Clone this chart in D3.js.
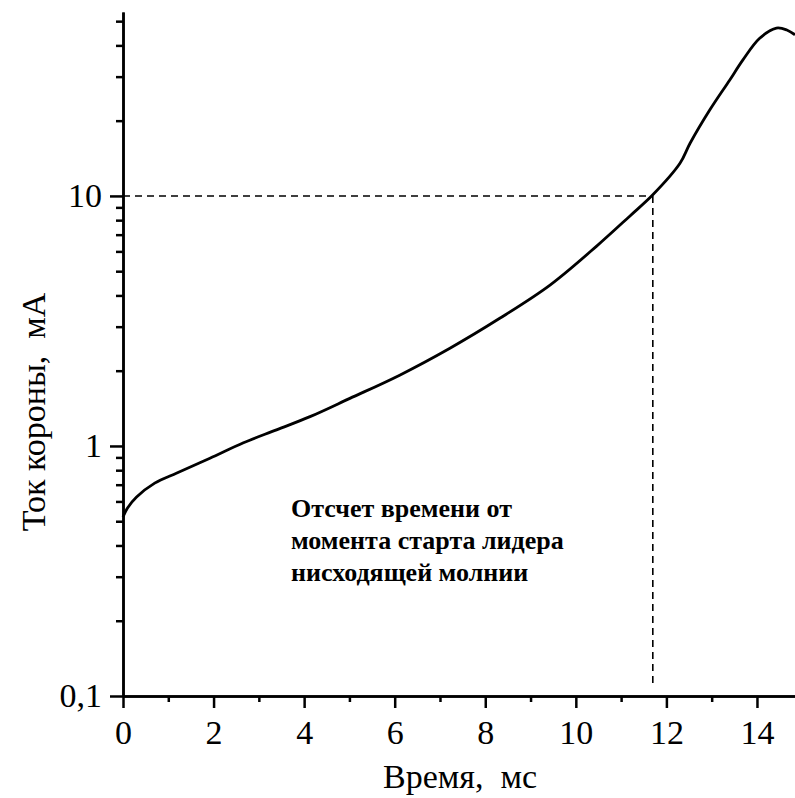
<!DOCTYPE html>
<html>
<head>
<meta charset="utf-8">
<script src="https://cdn.jsdelivr.net/npm/d3@7"></script>
<style>
  body { margin: 0; background: #fff; }
  svg text { font-family: "Liberation Serif", "Times New Roman", Times, "DejaVu Serif", serif; }
</style>
</head>
<body>
<div id="chart"></div>
<script>
// Данные: время (мс) и ток короны (мА)
const timeMs = [0, 0.1, 0.3, 0.7, 1.19, 1.92, 2.66, 3.39, 4.13, 5.01, 6.11, 7.22, 8.32, 9.43,
  10.46, 11.19, 11.7, 12.3, 12.52, 12.96, 13.4, 13.69, 14.06, 14.43, 14.66, 14.84];
const currentMA = [0.52, 0.565, 0.625, 0.71, 0.78, 0.893, 1.03, 1.16, 1.31, 1.55, 1.92, 2.46, 3.24, 4.4,
  6.3, 8.3, 10.1, 13.5, 16.2, 22.1, 29.1, 35, 42.7, 46.9, 46.1, 44.1];

const xMajorTicks = [0, 2, 4, 6, 8, 10, 12, 14];
const xMinorTicks = [1, 3, 5, 7, 9, 11, 13];
const yMajorTicks = [0.1, 1, 10];
const yMinorTicks = [0.2, 0.3, 0.4, 0.5, 0.6, 0.7, 0.8, 0.9, 2, 3, 4, 5, 6, 7, 8, 9, 20, 30, 40, 50];
const yTickLabels = ["0,1", "1", "10"];

const markerT = 11.7;   // момент, когда ток достигает 10 мА
const markerI = 10;

const annotation = ["Отсчет времени от", "момента старта лидера", "нисходящей молнии"];

const width = 795;
const height = 798;
const serif = "'Liberation Serif', 'Times New Roman', Times, 'DejaVu Serif', serif";

const data = timeMs.map((t, i) => ({ t, i: currentMA[i] }));

const svg = d3.select("#chart")
  .append("svg")
  .attr("width", width)
  .attr("height", height);

const x = d3.scaleLinear()
  .domain([0, 14.84])
  .range([123, 795]);

const y = d3.scaleLog()
  .domain([0.1, 54.4])
  .range([696, 12]);

// оси
const xAxisMinor = d3.axisBottom(x).tickValues(xMinorTicks).tickSize(6).tickSizeOuter(0).tickFormat("");
const xAxisMajor = d3.axisBottom(x).tickValues(xMajorTicks).tickSize(12).tickSizeOuter(0).tickPadding(12);
const yAxisMinor = d3.axisLeft(y).tickValues(yMinorTicks).tickSize(7).tickSizeOuter(0).tickFormat("");
const yAxisMajor = d3.axisLeft(y).tickValues(yMajorTicks).tickSize(13).tickSizeOuter(0).tickPadding(8)
  .tickFormat((d, k) => yTickLabels[k]);

function styleAxis(g) {
  g.attr("font-family", serif);
  g.select(".domain").attr("stroke", "#000").attr("stroke-width", 2.5);
  g.selectAll(".tick line").attr("stroke", "#000").attr("stroke-width", 2.5);
  g.selectAll(".tick text").attr("fill", "#000")
    .style("font-family", serif)
    .style("font-size", "34px");
}

svg.append("g").attr("transform", "translate(0,696)").call(xAxisMinor).call(styleAxis);
svg.append("g").attr("transform", "translate(0,696)").call(xAxisMajor).call(styleAxis);
svg.append("g").attr("transform", "translate(123,0)").call(yAxisMinor).call(styleAxis);
svg.append("g").attr("transform", "translate(123,0)").call(yAxisMajor).call(styleAxis);

// пунктирные линии к точке 10 мА
svg.append("line")
  .attr("x1", x(0)).attr("x2", x(markerT))
  .attr("y1", y(markerI)).attr("y2", y(markerI))
  .attr("stroke", "#000").attr("stroke-width", 1.6)
  .attr("stroke-dasharray", "7,5");

svg.append("line")
  .attr("x1", x(markerT)).attr("x2", x(markerT))
  .attr("y1", y(markerI)).attr("y2", y(0.1) - 8)
  .attr("stroke", "#000").attr("stroke-width", 1.6)
  .attr("stroke-dasharray", "7,5");

// кривая тока
const line = d3.line()
  .x((d) => x(d.t))
  .y((d) => y(d.i))
  .curve(d3.curveCatmullRom.alpha(0.5));

svg.append("path")
  .datum(data)
  .attr("d", line)
  .attr("fill", "none")
  .attr("stroke", "#000")
  .attr("stroke-width", 2.8);

// подписи осей
svg.append("text")
  .attr("x", 460)
  .attr("y", 788)
  .attr("text-anchor", "middle")
  .style("font-family", serif)
  .style("font-size", "34px")
  .text("Время,\u00a0 мс");

svg.append("text")
  .attr("transform", "translate(45,412) rotate(-90)")
  .attr("text-anchor", "middle")
  .style("font-family", serif)
  .style("font-size", "34px")
  .text("Ток короны,\u00a0 мА");

// пояснение
svg.append("g")
  .selectAll("text")
  .data(annotation)
  .enter()
  .append("text")
  .attr("x", 291)
  .attr("y", (d, k) => 517 + k * 32)
  .style("font-family", serif)
  .style("font-size", "26px")
  .style("font-weight", "bold")
  .text((d) => d);
</script>
</body>
</html>
